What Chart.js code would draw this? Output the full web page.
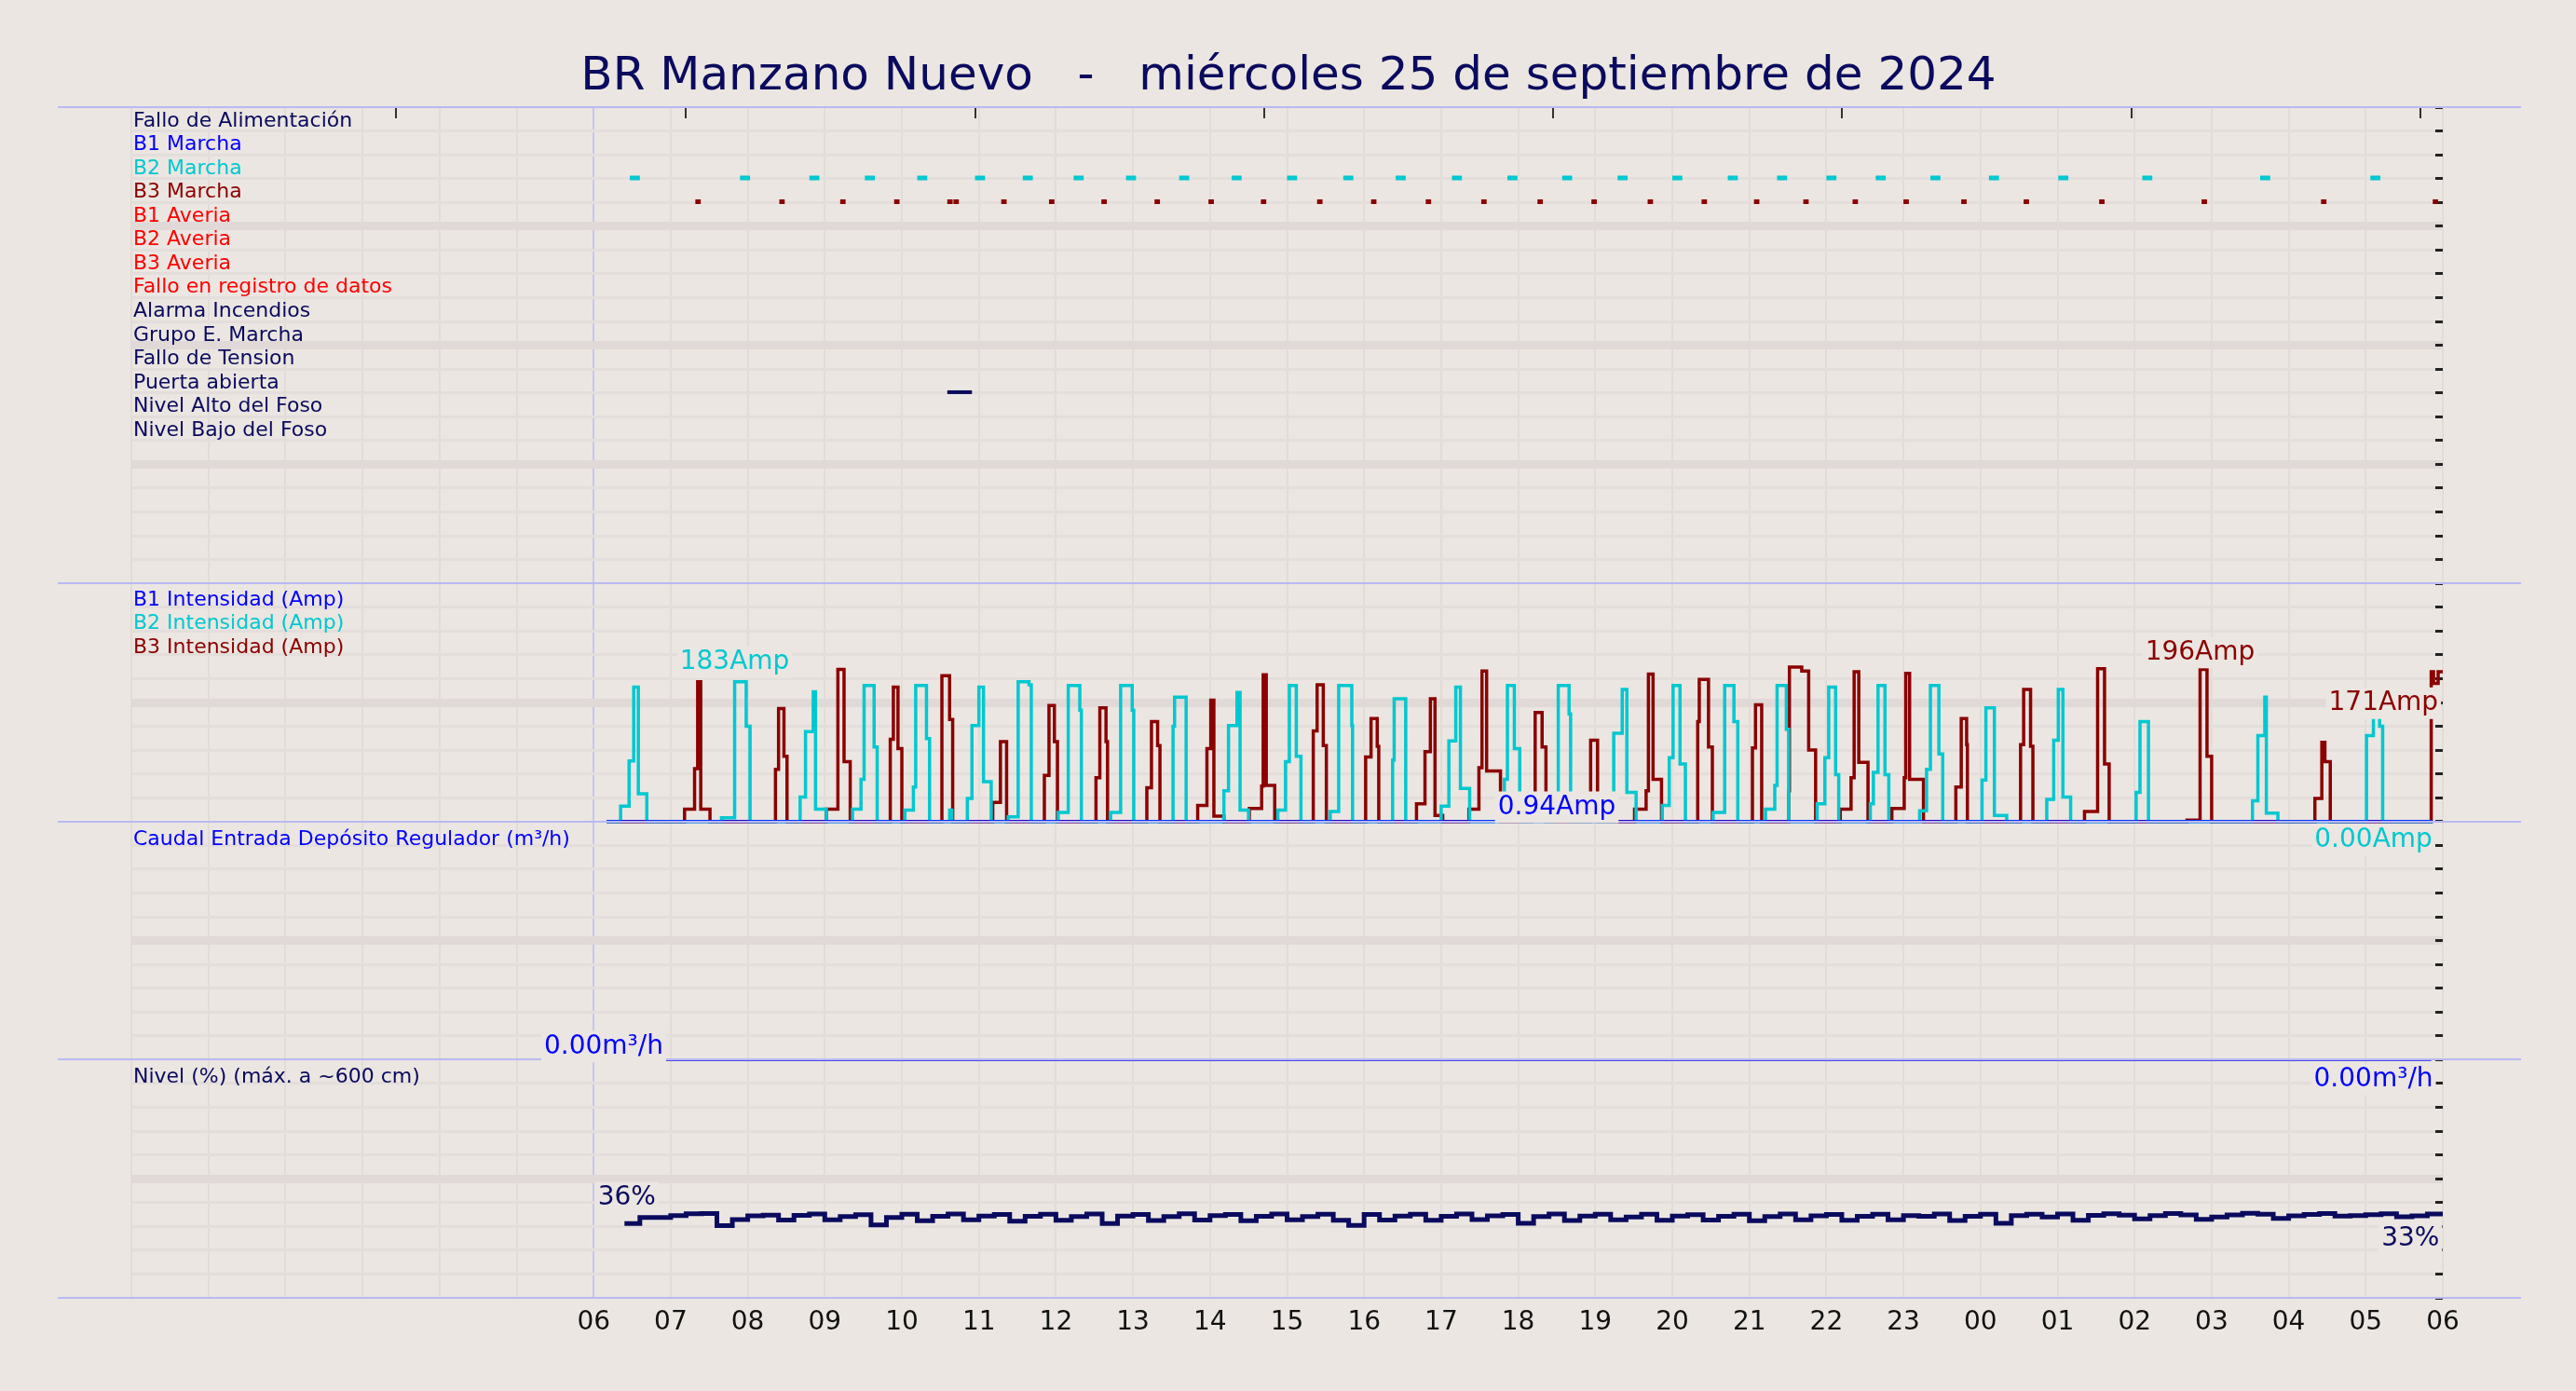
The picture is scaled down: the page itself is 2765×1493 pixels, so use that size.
<!DOCTYPE html>
<html>
<head>
<meta charset="utf-8">
<script src="https://cdn.jsdelivr.net/npm/chart.js@4.4.1/dist/chart.umd.min.js"></script>
<style>
  html, body { margin: 0; padding: 0; background: #ebe6e1; }
  canvas { display: block; }
</style>
</head>
<body>
<canvas id="chart" width="2765" height="1493"></canvas>
<script>
// Data. Hours counted from 06:00 of the day.
const chartTitle = "BR Manzano Nuevo   -   miércoles 25 de septiembre de 2024";
const hourLabels = ["06","07","08","09","10","11","12","13","14","15","16","17","18","19","20","21","22","23","00","01","02","03","04","05","06"];

const digitalNames = ["Fallo de Alimentación","B1 Marcha","B2 Marcha","B3 Marcha","B1 Averia","B2 Averia","B3 Averia",
  "Fallo en registro de datos","Alarma Incendios","Grupo E. Marcha","Fallo de Tension","Puerta abierta","Nivel Alto del Foso","Nivel Bajo del Foso"];
const digitalColors = ["#0a0a5e","#0000ff","#00c8d0","#8b0000","#ff0000","#ff0000","#ff0000","#ff0000","#0a0a5e","#0a0a5e","#0a0a5e","#0a0a5e","#0a0a5e","#0a0a5e"];

// start times of the digital marks
const b2MarchaHours = [0.47,1.9,2.8,3.52,4.2,4.95,5.57,6.23,6.91,7.6,8.28,9.0,9.73,10.41,11.14,11.86,12.57,13.29,14.0,14.72,15.36,16.0,16.64,17.35,18.11,19.01,20.1,21.63,23.06];
const b3MarchaHours = [1.32,2.41,3.2,3.9,4.59,4.67,5.29,5.91,6.59,7.28,7.98,8.66,9.39,10.09,10.8,11.52,12.25,12.95,13.68,14.38,15.06,15.7,16.34,17.0,17.75,18.56,19.54,20.87,22.42,23.87];
const puertaStart = [4.59];
const puertaEnd = [4.91];

// Pump currents (Amp), step series
const b2Hours = [0.17,0.35,0.46,0.52,0.58,0.69, 1.66,1.83,1.98,2.03, 2.68,2.75,2.85,2.88,3.02, 3.36,3.47,3.51,3.64,3.68,
  4.04,4.15,4.18,4.32,4.36, 4.62,4.65, 4.85,4.91,5.0,5.06,5.16, 5.38,5.51,5.65,5.68, 6.03,6.16,6.31,6.33, 6.71,6.84,6.99,7.01,
  7.52,7.54,7.69, 8.18,8.24,8.35,8.39,8.5, 8.88,8.98,9.03,9.12,9.18, 9.56,9.67,9.84,9.85, 10.37,10.39,10.54,
  11.0,11.1,11.19,11.25,11.37, 11.75,11.82,11.86,11.95,12.02, 12.45,12.52,12.66,12.68, 13.24,13.35,13.41,13.53,
  13.87,13.96,14.01,14.1,14.17, 14.53,14.68,14.8,14.85, 15.21,15.33,15.36,15.48,15.51, 15.88,15.98,16.03,16.12,16.16,
  16.57,16.61,16.67,16.76,16.81, 17.21,17.3,17.35,17.46,17.51, 18.02,18.07,18.18,18.34, 18.86,18.95,19.01,19.07,19.17,
  20.02,20.07,20.18, 21.53,21.6,21.69,21.71,21.86, 23.01,23.1,23.18,23.22,23.87];
const b2Amps = [0,20,79,175,36,0, 5,182,124,0, 32,117,169,16,0, 16,55,177,97,0,
  15,45,177,108,0, 15,0, 30,125,175,52,0, 6,182,178,0, 12,177,145,0, 12,177,145,0,
  124,162,0, 40,125,168,15,0, 15,78,177,85,0, 13,177,125,0, 80,160,0,
  20,105,175,43,0, 10,55,177,95,0, 20,177,140,0, 115,172,38,0,
  21,83,177,75,0, 12,177,130,0, 16,47,177,120,0, 23,83,175,61,0,
  23,64,177,61,0, 14,68,177,88,0, 54,148,8,0, 29,106,172,32,0,
  38,130,0, 27,112,162,11,0, 112,162,124,0,0];

const b3Hours = [0.17,1.18,1.31,1.35,1.39,1.51, 2.36,2.4,2.47,2.51, 3.02,3.17,3.25,3.33, 3.85,3.89,3.95,4.0,
  4.52,4.62,4.66, 5.18,5.28,5.36, 5.85,5.91,5.98,6.02, 6.52,6.57,6.65,6.67, 7.18,7.24,7.32,7.35,
  7.84,7.96,8.01,8.05,8.18, 8.51,8.67,8.69,8.73,8.84, 9.34,9.39,9.47,9.51, 10.02,10.09,10.17,10.19,
  10.68,10.79,10.86,10.92,11.02, 11.36,11.49,11.53,11.59,11.77, 12.18,12.22,12.31,12.36, 12.94,13.03,
  13.51,13.66,13.69,13.75,13.86, 14.33,14.35,14.47,14.52, 15.04,15.08,15.16, 15.51,15.52,15.68,15.77,15.86,
  16.18,16.32,16.36,16.42,16.54, 16.85,17.01,17.03,17.08,17.26, 17.68,17.75,17.82,17.83, 18.52,18.56,18.65,18.68,
  19.35,19.52,19.61,19.67, 20.68,20.85,20.94,21.0, 22.34,22.43,22.47,22.54, 23.85,23.88,23.94,24.0];
const b3Amps = [0,16,69,182,16,0, 68,147,85,0, 16,198,78,0, 107,175,95,0,
  190,133,0, 25,104,0, 60,151,104,0, 57,148,104,0, 44,130,99,0,
  21,95,158,7,0, 17,46,191,47,0, 118,178,99,0, 84,134,98,0,
  23,91,160,8,0, 16,70,196,66,0, 24,142,97,0, 106,0,
  16,40,192,55,0, 130,185,97,0, 96,152,0, 40,201,196,93,0,
  16,57,195,77,0, 17,57,193,55,0, 45,134,100,0, 100,172,98,0,
  13,199,75,0, 2,198,85,0, 30,103,78,0, 195,180,195,195];

const b1Hours = [0.17, 23.87];
const b1Amps = [0, 0];

// Caudal entrada (m3/h)
const caudalHours = [0.87, 23.85];
const caudalValues = [0, 0];

// Nivel (%) sampled every 0.2 h starting 0.4 h
const nivelStart = 0.4;
const nivelStep = 0.2;
const nivelPct = [31.8,34.4,34.4,35.2,36.0,36.1,30.9,33.5,35.1,35.4,33.3,35.3,35.9,33.4,34.8,35.6,31.2,34.4,35.8,33.0,
  34.9,35.9,33.4,35.0,35.7,32.8,34.9,35.8,33.2,34.8,35.9,31.8,35.0,35.7,33.1,34.8,36.0,33.3,35.2,35.7,
  33.0,34.9,35.9,33.4,34.8,35.8,33.2,31.0,35.7,33.3,35.0,35.8,33.2,34.9,35.9,33.5,35.1,35.7,31.9,34.8,
  35.9,33.1,35.0,35.8,33.4,34.6,35.8,33.2,35.0,35.6,33.3,34.9,35.8,33.0,34.8,35.9,33.4,35.1,35.7,33.2,
  34.9,35.8,33.4,35.2,34.9,35.9,33.1,34.9,35.8,31.9,35.2,35.8,34.6,35.9,33.2,35.3,36.0,35.4,33.8,35.2,
  36.1,35.5,33.6,34.6,35.5,36.2,35.8,34.0,35.1,35.7,36.1,35.0,35.2,35.6,36.0,34.7,35.1,35.9,35.4,33.0];

// Panel mapping: nivel 0-1, caudal 1-2, intensidad 2-3, digital 3-5
const ampToY = a => 2 + a / 310;
const caudalToY = q => 1 + q / 100;
const nivelToY = p => p / 102;
const rowY = i => 5 - 0.1 * (i + 1) + 0.003;
const panelEdges = [0, 1, 2, 3, 5];

function stepPoints(hours, vals, f) {
  return hours.map((h, i) => ({ x: h, y: f(vals[i]) }));
}
function markPoints(starts, width, row) {
  const pts = [];
  starts.forEach(t => { pts.push({ x: t, y: rowY(row) }, { x: t + width, y: rowY(row) }, { x: t + width, y: NaN }); });
  return pts;
}
function markRange(starts, ends, row) {
  const pts = [];
  starts.forEach((t, i) => { pts.push({ x: t, y: rowY(row) }, { x: ends[i], y: rowY(row) }, { x: ends[i], y: NaN }); });
  return pts;
}

const FONT = "'DejaVu Sans', sans-serif";
const BG = "#ebe6e1";

const valueLabels = [
  { text: "183Amp", x: 1.83, y: 2.669, color: "#00c8d0" },
  { text: "196Amp", x: 20.85, y: 2.71, color: "#8b0000" },
  { text: "171Amp", x: 23.23, y: 2.497, color: "#8b0000" },
  { text: "0.94Amp", x: 12.5, y: 2.06, color: "#0000ff" },
  { text: "0.00Amp", x: 23.1, y: 1.924, color: "#00c8d0" },
  { text: "0.00m³/h", x: 0.13, y: 1.055, color: "#0000ff" },
  { text: "0.00m³/h", x: 23.1, y: 0.917, color: "#0000ff" },
  { text: "36%", x: 0.43, y: 0.421, color: "#0a0a5e" },
  { text: "33%", x: 23.58, y: 0.248, color: "#0a0a5e" }
];
const panelLabels = [
  { text: "B1 Intensidad (Amp)", y: 2.93, color: "#0000ff" },
  { text: "B2 Intensidad (Amp)", y: 2.83, color: "#00c8d0" },
  { text: "B3 Intensidad (Amp)", y: 2.73, color: "#8b0000" },
  { text: "Caudal Entrada Depósito Regulador (m³/h)", y: 1.925, color: "#0000ff" },
  { text: "Nivel (%) (máx. a ~600 cm)", y: 0.925, color: "#0a0a5e" }
];

const decor = {
  id: "decor",
  beforeDraw(chart) {
    const c = chart.ctx;
    c.save();
    c.fillStyle = BG;
    c.fillRect(0, 0, chart.width, chart.height);
    c.restore();
  },
  afterDatasetsDraw(chart) {
    const c = chart.ctx, xs = chart.scales.x, ys = chart.scales.y;
    c.save();
    // panel boundaries across full width
    c.strokeStyle = "#b9b9f2";
    c.lineWidth = 2;
    panelEdges.forEach(v => {
      const py = Math.round(ys.getPixelForValue(v));
      c.beginPath(); c.moveTo(62, py); c.lineTo(2706, py); c.stroke();
    });
    // title
    c.fillStyle = "#0a0a5e";
    c.font = "50px " + FONT;
    c.textAlign = "center";
    c.textBaseline = "middle";
    c.fillText(chartTitle, 1383, 83);
    // left labels
    c.font = "22px " + FONT;
    c.textAlign = "left";
    const lx = xs.left + 2;
    digitalNames.forEach((n, i) => {
      c.fillStyle = digitalColors[i];
      c.fillText(n, lx, ys.getPixelForValue(5 - 0.1 * i - 0.058));
    });
    panelLabels.forEach(l => {
      c.fillStyle = l.color;
      c.fillText(l.text, lx, ys.getPixelForValue(l.y));
    });
    // value labels
    c.font = "28px " + FONT;
    c.textAlign = "center";
    valueLabels.forEach(l => {
      const px = xs.getPixelForValue(l.x), py = ys.getPixelForValue(l.y);
      const w = c.measureText(l.text).width;
      c.fillStyle = BG;
      c.fillRect(px - w / 2 - 3, py - 17, w + 6, 34);
      c.fillStyle = l.color;
      c.fillText(l.text, px, py);
    });
    c.restore();
  }
};

const yTicks = [];
for (let k = 0; k <= 50; k++) yTicks.push({ value: k / 10 });

const lineDs = (label, data, color, width) => ({
  label, data, borderColor: color, borderWidth: width, pointRadius: 0,
  stepped: "before", fill: false, spanGaps: false, tension: 0
});

new Chart(document.getElementById("chart"), {
  type: "line",
  data: {
    datasets: [
      lineDs("B1", stepPoints(b1Hours, b1Amps, ampToY), "#0000ff", 3),
      lineDs("B2", stepPoints(b2Hours, b2Amps, ampToY), "#00c8d0", 3.5),
      lineDs("B3", stepPoints(b3Hours, b3Amps, ampToY), "#8b0000", 3.5),
      lineDs("Caudal", stepPoints(caudalHours, caudalValues, caudalToY), "#4b4bf0", 3),
      lineDs("Nivel", nivelPct.map((p, i) => ({ x: nivelStart + nivelStep * i, y: nivelToY(p) })), "#0a0a5e", 5),
      { ...lineDs("B2 Marcha", markPoints(b2MarchaHours, 0.13, 2), "#00c8d0", 5), stepped: false },
      { ...lineDs("B3 Marcha", markPoints(b3MarchaHours, 0.07, 3), "#8b0000", 5), stepped: false },
      { ...lineDs("Puerta", markRange(puertaStart, puertaEnd, 11), "#0a0a5e", 4), stepped: false }
    ]
  },
  options: {
    responsive: false,
    devicePixelRatio: 1,
    animation: false,
    layout: { padding: { left: 141, right: 143, top: 115, bottom: 0 } },
    plugins: { legend: { display: false }, tooltip: { enabled: false }, title: { display: false } },
    scales: {
      x: {
        type: "linear", min: -6, max: 24,
        afterBuildTicks: s => { const t = []; for (let h = -6; h <= 24; h++) t.push({ value: h }); s.ticks = t; },
        afterFit: s => { s.height = 100; },
        grid: {
          drawTicks: false,
          color: ctx => ctx.tick && ctx.tick.value === 0 ? "#c6c6f0" : "#e2dcd9",
          lineWidth: 2
        },
        border: { display: false },
        ticks: {
          padding: 10, color: "#111", font: { size: 28, family: FONT },
          callback: v => v >= 0 ? hourLabels[v] : ""
        }
      },
      xTop: {
        type: "linear", position: "top", min: -6, max: 24,
        afterBuildTicks: s => { s.ticks = [-2.56, 1.19, 4.95, 8.7, 12.45, 16.2, 19.96, 23.71].map(v => ({ value: v })); },
        afterFit: s => { s.height = 0; },
        grid: { drawOnChartArea: false, tickLength: -12, color: "#333", lineWidth: 2 },
        border: { display: false },
        ticks: { display: false }
      },
      y: {
        min: 0, max: 5,
        afterBuildTicks: s => { s.ticks = yTicks.slice(); },
        afterFit: s => { s.width = 0; },
        grid: {
          drawTicks: false,
          color: ctx => {
            const k = Math.round(ctx.tick.value * 10);
            if (panelEdges.includes(k / 10)) return "rgba(0,0,0,0)";
            return k % 5 === 0 ? "#e0d9d7" : "#e3dedb";
          },
          lineWidth: ctx => Math.round(ctx.tick.value * 10) % 5 === 0 ? 9 : 3
        },
        border: { display: false },
        ticks: { display: false }
      },
      yRight: {
        position: "right", min: 0, max: 5,
        afterBuildTicks: s => { s.ticks = yTicks.slice(); },
        afterFit: s => { s.width = 0; },
        grid: { drawOnChartArea: false, tickLength: -8, color: "#222", lineWidth: 3 },
        border: { display: false },
        ticks: { display: false }
      }
    }
  },
  plugins: [decor]
});
</script>
</body>
</html>
